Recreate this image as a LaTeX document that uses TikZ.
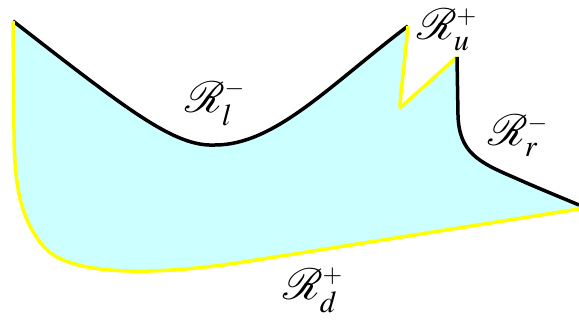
\documentclass[tikz,border=0pt]{standalone}
\usepackage{amsmath,amssymb}
\usepackage{mathptmx}
\usepackage{mathrsfs}
\definecolor{regioncyan}{RGB}{204,255,255}
\definecolor{edgeyellow}{RGB}{255,255,0}
\tikzset{
  region/.style={
    fill=regioncyan,
    draw=none
  },
  minusedge/.style={
    draw=black,
    line width=0.07cm,
    line join=round
  },
  plusedge/.style={
    draw=edgeyellow,
    line width=0.07cm,
    line join=round
  },
  bdlabel/.style={
    inner sep=0pt,
    font=\Huge
  }
}
\begin{document}
\begin{tikzpicture}[x=0.02cm,y=-0.02cm]
    \useasboundingbox (0,0) rectangle (579,320);
    % corners of the boundary
    \coordinate (tl) at (13,21);
    \coordinate (lmin) at (215,145);
    \coordinate (pk) at (408,26);
    \coordinate (nb) at (401,107);
    \coordinate (rt) at (457,57);
    \coordinate (re) at (579,205);
    \coordinate (rb) at (579,209);
    % the region
    \fill[region] (tl) .. controls (130,112) and (175,147) .. (lmin)
        .. controls (275,145) and (330,85) .. (pk)
        .. controls (403,80) and (398,112) .. (nb) -- (rt)
        -- (458,115) .. controls (459,152) and (478,162) .. (513,177)
        .. controls (540,189) and (560,197) .. (re) -- (rb)
        -- (250,261) .. controls (150,277) and (70,275) .. (45,248)
        .. controls (22,222) and (14,190) .. (14,130) -- cycle;
    % edges
    \draw[minusedge] (tl) .. controls (130,112) and (175,147) .. (lmin)
        .. controls (275,145) and (330,85) .. (pk);
    \draw[plusedge] (pk) .. controls (403,80) and (398,112) .. (nb) -- (rt);
    \draw[minusedge] (rt) -- (458,115) .. controls (459,152) and (478,162) .. (513,177)
        .. controls (540,189) and (560,197) .. (re);
    \draw[plusedge] (rb) -- (250,261) .. controls (150,277) and (70,275) .. (45,248)
        .. controls (22,222) and (14,190) .. (14,130) -- (tl);
    % labels
    \node[bdlabel] (rl) at (215,103) {$\mathscr{R}^{\scriptscriptstyle -}_{l}$};
    \node[bdlabel] (ru) at (447,30) {$\mathscr{R}^{\scriptscriptstyle +}_{u}$};
    \node[bdlabel] (rr) at (518,136) {$\mathscr{R}^{\scriptscriptstyle -}_{r}$};
    \node[bdlabel] (rd) at (313,290) {$\mathscr{R}^{\scriptscriptstyle +}_{d}$};
\end{tikzpicture}
\end{document}
